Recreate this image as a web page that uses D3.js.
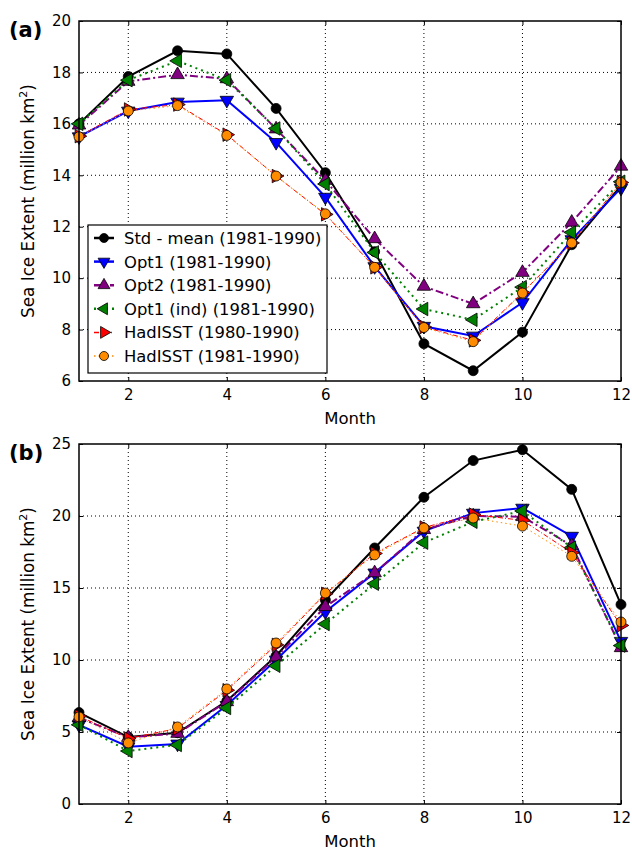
<!DOCTYPE html>
<html>
<head>
<meta charset="utf-8">
<script src="https://cdn.jsdelivr.net/npm/d3@7"></script>
<style>
  body { margin: 0; background: #fff; }
  text { font-family: "DejaVu Sans", sans-serif; }
</style>
</head>
<body>
<script>
// months on the x axis
const months = [1, 2, 3, 4, 5, 6, 7, 8, 9, 10, 11, 12];

// panel (a) values, million km2
const a_std    = [16.0, 17.84, 18.84, 18.72, 16.6, 14.1, 11.03, 7.45, 6.4, 7.9, 11.3, 13.6];
const a_opt1   = [15.5, 16.5, 16.85, 16.92, 15.28, 13.15, 10.45, 8.13, 7.75, 9.05, 11.5, 13.5];
const a_opt2   = [15.95, 17.65, 17.91, 17.75, 15.8, 13.8, 11.53, 9.68, 9.0, 10.22, 12.17, 14.35];
const a_opt1i  = [16.0, 17.7, 18.45, 17.7, 15.82, 13.66, 11.0, 8.8, 8.38, 9.65, 11.78, 13.75];
const a_had80  = [15.52, 16.56, 16.75, 15.58, 13.97, 12.48, 10.42, 8.1, 7.58, 9.44, 11.37, 13.72];
const a_had81  = [15.5, 16.5, 16.71, 15.55, 13.97, 12.5, 10.42, 8.08, 7.53, 9.42, 11.37, 13.72];

// panel (b) values
const b_std    = [6.35, 4.65, 4.95, 7.15, 10.28, 14.17, 17.78, 21.3, 23.85, 24.6, 21.85, 13.85];
const b_opt1   = [5.5, 3.98, 4.17, 6.85, 10.0, 13.35, 16.05, 18.95, 20.2, 20.55, 18.6, 11.3];
const b_opt2   = [6.0, 4.62, 4.9, 7.1, 10.2, 13.7, 16.05, 19.05, 20.0, 19.95, 17.95, 10.85];
const b_opt1i  = [5.5, 3.68, 4.1, 6.67, 9.6, 12.5, 15.3, 18.15, 19.6, 20.35, 17.8, 11.0];
const b_had80  = [6.1, 4.55, 5.25, 7.9, 11.05, 14.6, 17.4, 19.2, 20.1, 19.7, 17.45, 12.4];
const b_had81  = [6.05, 4.24, 5.35, 7.99, 11.18, 14.65, 17.3, 19.17, 19.86, 19.3, 17.2, 12.64];

const labels = ["Std - mean (1981-1990)", "Opt1 (1981-1990)", "Opt2 (1981-1990)",
                "Opt1 (ind) (1981-1990)", "HadISST (1980-1990)", "HadISST (1981-1990)"];
const colors = ["#000000", "#0000ff", "#800080", "#008000", "#ff0000", "#ff8c00"];
const markerFill = ["#000000", "#0000ff", "#800080", "#008000", "#ff0000", "#ff8c00"];
const dashes = [null, null, "8,3,2,3", "2,4", "5,2,1,2", "1.5,3"];
const widths = [2, 2, 2, 2, 1, 1];
const shapes = ["circle", "tdown", "tup", "tleft", "tright", "circle"];

const aYTicks = [6, 8, 10, 12, 14, 16, 18, 20];
const bYTicks = [0, 5, 10, 15, 20, 25];
const xTicks = [2, 4, 6, 8, 10, 12];

const WIDTH = 632, HEIGHT = 850;
const LEFT = 79, RIGHT = 621;

const svg = d3.select('body').append('svg')
  .attr('width', WIDTH)
  .attr('height', HEIGHT);

function markerPath(shape, s) {
  if (shape === "circle") {
    const r = s * 0.5;
    return `M${r},0A${r},${r} 0 1,1 ${-r},0A${r},${r} 0 1,1 ${r},0Z`;
  }
  const r = s * 0.62;
  let pts;
  if (shape === "tup") pts = [[0, -r], [r * 0.87, r * 0.5], [-r * 0.87, r * 0.5]];
  if (shape === "tdown") pts = [[0, r], [r * 0.87, -r * 0.5], [-r * 0.87, -r * 0.5]];
  if (shape === "tleft") pts = [[-r, 0], [r * 0.5, -r * 0.87], [r * 0.5, r * 0.87]];
  if (shape === "tright") pts = [[r, 0], [-r * 0.5, -r * 0.87], [-r * 0.5, r * 0.87]];
  return "M" + pts.map(p => p.join(",")).join("L") + "Z";
}

function panel(top, bottom, yDomain, yTicks, series, tag, withLegend) {
  const x = d3.scaleLinear().domain([1, 12]).range([LEFT, RIGHT]);
  const y = d3.scaleLinear().domain(yDomain).range([bottom, top]);
  const g = svg.append('g');

  // grid
  g.selectAll('.gx').data(xTicks.filter(t => t < 12)).enter().append('line')
    .attr('x1', d => x(d)).attr('x2', d => x(d))
    .attr('y1', top).attr('y2', bottom)
    .attr('stroke', '#000').attr('stroke-width', 1)
    .attr('stroke-dasharray', '1,3');
  g.selectAll('.gy').data(yTicks.slice(1, -1)).enter().append('line')
    .attr('x1', LEFT).attr('x2', RIGHT)
    .attr('y1', d => y(d)).attr('y2', d => y(d))
    .attr('stroke', '#000').attr('stroke-width', 1)
    .attr('stroke-dasharray', '1,3');

  // axes (ticks inside)
  const xb = g.append('g').attr('transform', `translate(0,${bottom})`)
    .call(d3.axisBottom(x).tickValues(xTicks).tickSizeInner(-4).tickSizeOuter(0).tickPadding(8));
  const xt = g.append('g').attr('transform', `translate(0,${top})`)
    .call(d3.axisTop(x).tickValues(xTicks).tickSizeInner(-4).tickSizeOuter(0).tickFormat(''));
  const yl = g.append('g').attr('transform', `translate(${LEFT},0)`)
    .call(d3.axisLeft(y).tickValues(yTicks).tickSizeInner(-4).tickSizeOuter(0).tickPadding(8));
  const yr = g.append('g').attr('transform', `translate(${RIGHT},0)`)
    .call(d3.axisRight(y).tickValues(yTicks).tickSizeInner(-4).tickSizeOuter(0).tickFormat(''));
  [xb, xt, yl, yr].forEach(a => {
    a.select('.domain').remove();
    a.selectAll('text').attr('font-size', 15).attr('fill', '#000')
      .attr('font-family', '"DejaVu Sans", sans-serif');
    a.selectAll('line').attr('stroke', '#000');
  });

  // lines and markers
  const clipId = 'clip' + tag;
  svg.append('clipPath').attr('id', clipId).append('rect')
    .attr('x', LEFT).attr('y', top).attr('width', RIGHT - LEFT).attr('height', bottom - top);
  const line = d3.line().x((d, i) => x(months[i])).y(d => y(d));
  series.forEach((s, k) => {
    g.append('path').datum(s)
      .attr('d', line)
      .attr('fill', 'none')
      .attr('stroke', colors[k])
      .attr('stroke-width', widths[k])
      .attr('stroke-dasharray', dashes[k])
      .attr('clip-path', `url(#${clipId})`);
    g.selectAll('.m' + k).data(s).enter().append('path')
      .attr('transform', (d, i) => `translate(${x(months[i])},${y(d)})`)
      .attr('d', markerPath(shapes[k], shapes[k] === "circle" ? 10 : 12.5))
      .attr('fill', markerFill[k])
      .attr('stroke', '#000').attr('stroke-width', 0.8);
  });

  // frame
  g.append('rect').attr('x', LEFT).attr('y', top)
    .attr('width', RIGHT - LEFT).attr('height', bottom - top)
    .attr('fill', 'none').attr('stroke', '#000').attr('stroke-width', 1.5);

  // labels
  g.append('text').attr('x', (LEFT + RIGHT) / 2).attr('y', bottom + 43)
    .attr('text-anchor', 'middle').attr('font-size', 16.5).text('Month');
  const yt = g.append('text')
    .attr('transform', `translate(34,${(top + bottom) / 2}) rotate(-90)`)
    .attr('text-anchor', 'middle').attr('font-size', 16.8);
  yt.append('tspan').text('Sea Ice Extent (million km');
  yt.append('tspan').attr('dy', -7).attr('font-size', 11).text('2');
  yt.append('tspan').attr('dy', 7).text(')');
  g.append('text').attr('x', 9).attr('y', top + 16)
    .attr('font-size', 21).attr('font-weight', 'bold').text(`(${tag})`);

  if (withLegend) {
    const lx = 88, ly = 225, lw = 239, lh = 148;
    const lg = g.append('g');
    lg.append('rect').attr('x', lx).attr('y', ly).attr('width', lw).attr('height', lh)
      .attr('fill', '#fff').attr('stroke', '#000').attr('stroke-width', 1.2);
    labels.forEach((lab, k) => {
      const yy = ly + 13 + k * 23.6;
      lg.append('line').attr('x1', lx + 6).attr('x2', lx + 26).attr('y1', yy).attr('y2', yy)
        .attr('stroke', colors[k]).attr('stroke-width', widths[k] + 0.5)
        .attr('stroke-dasharray', dashes[k]);
      lg.append('path').attr('transform', `translate(${lx + 16},${yy})`)
        .attr('d', markerPath(shapes[k], shapes[k] === "circle" ? 9 : 11))
        .attr('fill', markerFill[k]).attr('stroke', '#000').attr('stroke-width', 0.8);
      lg.append('text').attr('x', lx + 36).attr('y', yy + 6)
        .attr('font-size', 16.4).text(lab);
    });
  }
}

panel(21, 381, [6, 20], aYTicks, [a_std, a_opt1, a_opt2, a_opt1i, a_had80, a_had81], 'a', true);
panel(444, 804, [0, 25], bYTicks, [b_std, b_opt1, b_opt2, b_opt1i, b_had80, b_had81], 'b', false);
</script>
</body>
</html>
